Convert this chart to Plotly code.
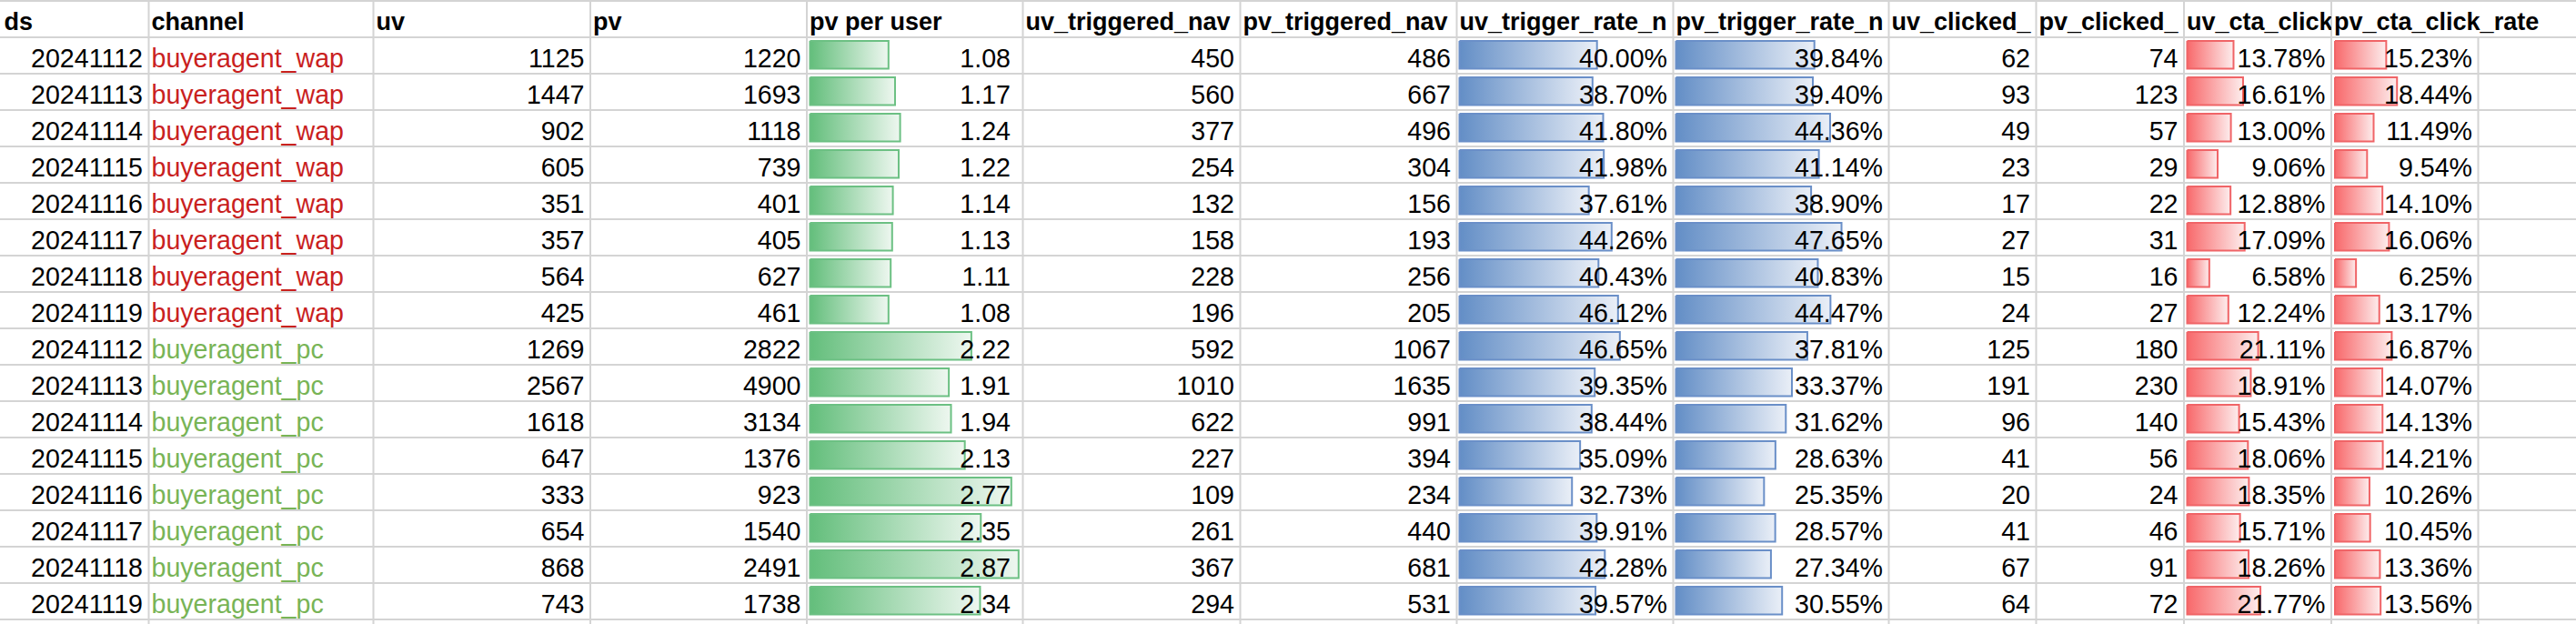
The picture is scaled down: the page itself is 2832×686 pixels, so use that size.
import plotly.graph_objects as go

# ---------------- data ----------------
headers = ["ds", "channel", "uv", "pv", "pv per user", "uv_triggered_nav",
           "pv_triggered_nav", "uv_trigger_rate_n", "pv_trigger_rate_n",
           "uv_clicked_", "pv_clicked_", "uv_cta_click", "pv_cta_click_rate"]

ds = ["20241112", "20241113", "20241114", "20241115", "20241116", "20241117", "20241118", "20241119",
      "20241112", "20241113", "20241114", "20241115", "20241116", "20241117", "20241118", "20241119"]
channel = ["buyeragent_wap"] * 8 + ["buyeragent_pc"] * 8
uv = [1125, 1447, 902, 605, 351, 357, 564, 425, 1269, 2567, 1618, 647, 333, 654, 868, 743]
pv = [1220, 1693, 1118, 739, 401, 405, 627, 461, 2822, 4900, 3134, 1376, 923, 1540, 2491, 1738]
pv_per_user = [1.08, 1.17, 1.24, 1.22, 1.14, 1.13, 1.11, 1.08, 2.22, 1.91, 1.94, 2.13, 2.77, 2.35, 2.87, 2.34]
uv_triggered_nav = [450, 560, 377, 254, 132, 158, 228, 196, 592, 1010, 622, 227, 109, 261, 367, 294]
pv_triggered_nav = [486, 667, 496, 304, 156, 193, 256, 205, 1067, 1635, 991, 394, 234, 440, 681, 531]
uv_trigger_rate = [40.00, 38.70, 41.80, 41.98, 37.61, 44.26, 40.43, 46.12,
                   46.65, 39.35, 38.44, 35.09, 32.73, 39.91, 42.28, 39.57]
pv_trigger_rate = [39.84, 39.40, 44.36, 41.14, 38.90, 47.65, 40.83, 44.47,
                   37.81, 33.37, 31.62, 28.63, 25.35, 28.57, 27.34, 30.55]
uv_clicked = [62, 93, 49, 23, 17, 27, 15, 24, 125, 191, 96, 41, 20, 41, 67, 64]
pv_clicked = [74, 123, 57, 29, 22, 31, 16, 27, 180, 230, 140, 56, 24, 46, 91, 72]
uv_cta_click_rate = [13.78, 16.61, 13.00, 9.06, 12.88, 17.09, 6.58, 12.24,
                     21.11, 18.91, 15.43, 18.06, 18.35, 15.71, 18.26, 21.77]
pv_cta_click_rate = [15.23, 18.44, 11.49, 9.54, 14.10, 16.06, 6.25, 13.17,
                     16.87, 14.07, 14.13, 14.21, 10.26, 10.45, 13.36, 13.56]

# ---------------- layout / style ----------------
W, H = 2832, 686
ROW_H, TOP = 40, 1
EDGES = [1.5, 163.5, 410.5, 649, 887, 1124.5, 1363.5, 1601.5, 1839.5,
         2076.5, 2238.5, 2401, 2563, 2724.5]
FONT = "Liberation Sans, Arial, sans-serif"
FS_DATA, FS_HEAD = 28.6, 27.0
GRID = "#d4d4d4"
TEXT_DY = 0.14
PAD_L = 3.0
PAD_R = {4: 13.5}
PAD_R_DEFAULT = 6.5
CH_COLORS = {"buyeragent_wap": "#C9211E", "buyeragent_pc": "#78B456"}

GREEN = ("#63BE7B", "#EEF7F0", "#6CC083")
BLUE = ("#638EC6", "#EAEFF7", "#6A8FC8")
RED = ("#F8696B", "#FDEDED", "#F06467")
# column index -> (px per unit, zero offset px, colors)
BAR_CFG = {4: (79.9, 3.5, GREEN), 7: (3.78, 3.0, BLUE), 8: (3.82, 3.0, BLUE),
           11: (3.70, 3.5, RED), 12: (3.70, 4.0, RED)}
BAR_TOP, BAR_BOT = -0.40, 0.36

columns = [ds, channel, uv, pv, pv_per_user, uv_triggered_nav, pv_triggered_nav,
           uv_trigger_rate, pv_trigger_rate, uv_clicked, pv_clicked,
           uv_cta_click_rate, pv_cta_click_rate]


def fmt(ci, v):
    if ci in (0, 1):
        return str(v)
    if ci == 4:
        return f"{v:.2f}"
    if ci in (7, 8, 11, 12):
        return f"{v:.2f}%"
    return str(v)


n_rows = len(ds)
fig = go.Figure()
layout_axes = {}


def ax_name(i):
    return "x" if i == 0 else f"x{i + 1}"


ranges = []
for i in range(len(headers)):
    w = EDGES[i + 1] - EDGES[i]
    if i in BAR_CFG:
        s, o, _ = BAR_CFG[i]
        lo, hi = -o / s, (w - o) / s
    else:
        lo, hi = 0.0, w
    ranges.append((lo, hi))
    key = "xaxis" if i == 0 else f"xaxis{i + 1}"
    layout_axes[key] = dict(domain=[EDGES[i] / W, EDGES[i + 1] / W], range=[lo, hi],
                            visible=False, fixedrange=True, anchor="y")


def px_to_ax(i, px):
    lo, hi = ranges[i]
    w = EDGES[i + 1] - EDGES[i]
    return lo + px * (hi - lo) / w


# data bars
for ci, (s, o, (c0, c1, cb)) in BAR_CFG.items():
    for r, v in enumerate(columns[ci]):
        y = r + 1
        fig.add_trace(go.Scatter(
            x=[0, v, v, 0, 0],
            y=[y + BAR_TOP, y + BAR_TOP, y + BAR_BOT, y + BAR_BOT, y + BAR_TOP],
            mode="lines", fill="toself",
            fillgradient=dict(type="horizontal", colorscale=[[0, c0], [1, c1]], start=0, stop=v),
            line=dict(color=cb, width=2),
            xaxis=ax_name(ci), yaxis="y", hoverinfo="skip", showlegend=False))

# headers and cell texts
for i, h in enumerate(headers):
    w = EDGES[i + 1] - EDGES[i]
    fig.add_trace(go.Scatter(
        x=[px_to_ax(i, PAD_L)], y=[0 + TEXT_DY], text=[h], mode="text",
        textposition="middle right",
        textfont=dict(family=FONT, size=FS_HEAD, color="black", weight="bold"),
        cliponaxis=(i != len(headers) - 1),
        xaxis=ax_name(i), yaxis="y", hoverinfo="skip", showlegend=False))
    vals = columns[i]
    ys = [r + 1 + TEXT_DY for r in range(n_rows)]
    if i == 1:
        fig.add_trace(go.Scatter(
            x=[px_to_ax(i, PAD_L)] * n_rows, y=ys, text=vals, mode="text",
            textposition="middle right",
            textfont=dict(family=FONT, size=FS_DATA, color=[CH_COLORS[c] for c in vals]),
            cliponaxis=True, xaxis=ax_name(i), yaxis="y", hoverinfo="skip", showlegend=False))
    else:
        pr = PAD_R.get(i, PAD_R_DEFAULT)
        fig.add_trace(go.Scatter(
            x=[px_to_ax(i, w - pr)] * n_rows, y=ys, text=[fmt(i, v) for v in vals],
            mode="text", textposition="middle left",
            textfont=dict(family=FONT, size=FS_DATA, color="black"),
            cliponaxis=False, xaxis=ax_name(i), yaxis="y", hoverinfo="skip", showlegend=False))

# gridlines
y_top = (0 - (TOP + ROW_H / 2)) / ROW_H
y_bot = (H - (TOP + ROW_H / 2)) / ROW_H
shapes = []
for k in range(n_rows + 2):
    shapes.append(dict(type="line", xref="paper", yref="y", x0=0, x1=1, y0=k - 0.5, y1=k - 0.5,
                       line=dict(color=GRID, width=2), layer="below"))
for j, e in enumerate(EDGES[1:]):
    start = 0.5 if j == len(EDGES) - 2 else y_top
    shapes.append(dict(type="line", xref="paper", yref="y", x0=e / W, x1=e / W, y0=start, y1=y_bot,
                       line=dict(color=GRID, width=2), layer="below"))

fig.update_layout(
    width=W, height=H, margin=dict(l=0, r=0, t=0, b=0),
    paper_bgcolor="white", plot_bgcolor="rgba(0,0,0,0)",
    yaxis=dict(domain=[0, 1], range=[y_bot, y_top], visible=False, fixedrange=True),
    shapes=shapes, showlegend=False, **layout_axes)

fig.write_html("out.html", config={"displayModeBar": False},
               post_script="document.body.style.margin='0px';document.body.style.overflow='hidden';")
